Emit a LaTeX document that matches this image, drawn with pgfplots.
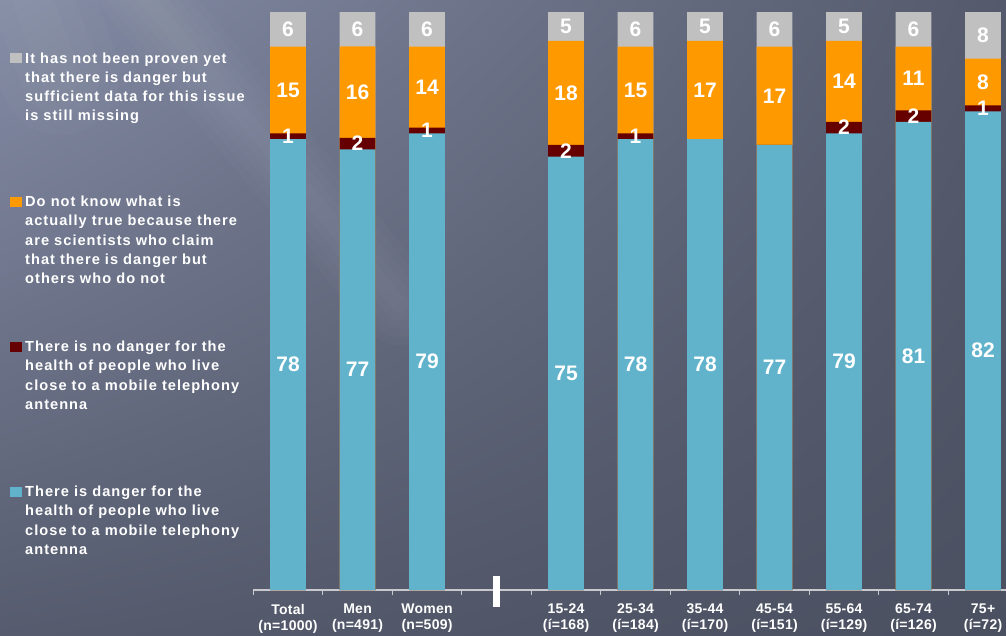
\documentclass[border=0pt]{standalone}
\usepackage{pgfplots}
\pgfplotsset{compat=1.18}
\usepackage{pgfplotstable}
\usetikzlibrary{shadings}
\usepackage{fontspec}
\setmainfont{Liberation Sans}
\newfontfamily\legfont{Liberation Sans}[LetterSpace=7]
\newfontfamily\tickfont{Liberation Sans}[LetterSpace=2]
\definecolor{cdanger}{RGB}{96,179,203}
\definecolor{cnodanger}{RGB}{102,0,0}
\definecolor{cdontknow}{RGB}{255,153,0}
\definecolor{cnotproven}{RGB}{192,192,192}
\definecolor{bgUL}{RGB}{132,140,166}
\definecolor{bgUR}{RGB}{84,90,107}
\definecolor{bgLL}{RGB}{86,92,110}
\definecolor{bgLR}{RGB}{74,80,96}
\definecolor{axisgray}{RGB}{200,200,205}

% percentages per group (each bar is drawn as a 100% stack)
\pgfplotstableread{
x danger nodanger dontknow notproven
0  78 1 15 6
1  77 2 16 6
2  79 1 14 6
4  75 2 18 5
5  78 1 15 6
6  78 0 17 5
7  77 0 17 6
8  79 2 14 5
9  81 2 11 6
10 82 1 8  8
}\datatable

\newcommand{\tot}{(\thisrow{danger}+\thisrow{nodanger}+\thisrow{dontknow}+\thisrow{notproven})}
\newcommand{\vallabel}{\pgfmathfloatparsenumber{\pgfplotspointmeta}\pgfmathfloatifflags{\pgfmathresult}{0}{}{\pgfmathprintnumber{\pgfplotspointmeta}}}

\begin{document}
\begin{tikzpicture}[x=1pt,y=1pt]
\useasboundingbox (0,0) rectangle (1006,635);
\shade[upper left=bgUL, upper right=bgUR, lower left=bgLL, lower right=bgLR] (0,0) rectangle (1006,635);
\begin{scope}
\clip (0,0) rectangle (1006,635);
\foreach \w in {16,32,48,64,80}
  \draw[white, opacity=0.02, line width=\w pt, line cap=round] (110,680) -- (400,330);
\foreach \w in {40,80,120}
  \draw[white, opacity=0.02, line width=\w pt, line cap=round] (20,670) -- (60,560);
\end{scope}

\begin{axis}[
  at={(253.3pt,45pt)}, anchor=south west,
  scale only axis, width=752.7pt, height=590pt,
  xmin=-0.5, xmax=10.33, ymin=0, ymax=102.08,
  axis x line*=bottom, axis y line=none,
  axis line style={draw=axisgray, line width=1.3pt},
  xtick={0,1,2,4,5,6,7,8,9,10},
  xticklabels={{Total\\(n=1000)},{Men\\(n=491)},{Women\\(n=509)},{15-24\\(í=168)},{25-34\\(í=184)},{35-44\\(í=170)},{45-54\\(í=151)},{55-64\\(í=129)},{65-74\\(í=126)},{75+\\(í=72)}},
  xticklabel style={align=center, text=white, inner sep=0pt, anchor=north, yshift=-14pt,
    font=\tickfont\bfseries\fontsize{14}{16}\selectfont},
  major tick length=0pt,
  minor xtick={-0.5,0.5,1.5,2.5,3.5,4.5,5.5,6.5,7.5,8.5,9.5},
  minor tick length=4.5pt,
  tick align=outside,
  minor tick style={draw=axisgray, line width=1pt},
  clip=false,
  /pgf/number format/assume math mode=true,
  every node near coord/.append style={anchor=center, text=white,
    font=\bfseries\fontsize{21}{21}\selectfont},
]
\addplot[ybar, bar width=35.7pt, bar shift=0pt, fill=cnotproven, draw=none]
  table[x=x, y expr=100*\tot/\tot] {\datatable};
\addplot[ybar, bar width=35.7pt, bar shift=0pt, fill=cdontknow, draw=none]
  table[x=x, y expr=100*(\thisrow{danger}+\thisrow{nodanger}+\thisrow{dontknow})/\tot] {\datatable};
\addplot[ybar, bar width=35.7pt, bar shift=0pt, fill=cnodanger, draw=none]
  table[x=x, y expr=100*(\thisrow{danger}+\thisrow{nodanger})/\tot] {\datatable};
\addplot[ybar, bar width=35.7pt, bar shift=0pt, fill=cdanger, draw=none]
  table[x=x, y expr=100*\thisrow{danger}/\tot] {\datatable};

\addplot[draw=none, mark=none, point meta=explicit, nodes near coords={\vallabel}]
  table[x=x, y expr=100*(\thisrow{danger}/2)/\tot, meta=danger] {\datatable};
\addplot[draw=none, mark=none, point meta=explicit, nodes near coords={\vallabel}]
  table[x=x, y expr=100*(\thisrow{danger}+\thisrow{nodanger}/2)/\tot, meta=nodanger] {\datatable};
\addplot[draw=none, mark=none, point meta=explicit, nodes near coords={\vallabel}]
  table[x=x, y expr=100*(\thisrow{danger}+\thisrow{nodanger}+\thisrow{dontknow}/2)/\tot, meta=dontknow] {\datatable};
\addplot[draw=none, mark=none, point meta=explicit, nodes near coords={\vallabel}]
  table[x=x, y expr=100*(\thisrow{danger}+\thisrow{nodanger}+\thisrow{dontknow}+\thisrow{notproven}/2)/\tot, meta=notproven] {\datatable};

\fill[white] (axis cs:3,0) ++(-3.4pt,-16.7pt) rectangle ++(6.8pt,31pt);
\end{axis}

% legend
\begin{scope}[every node/.style={anchor=base west, inner sep=0pt, text=white,
    font=\legfont\bfseries\fontsize{14.6}{19}\selectfont}]
\fill[cnotproven] (10,572) rectangle (21.5,582);
\foreach \t [count=\i from 0] in {{It has not been proven yet},{that there is danger but},{sufficient data for this issue},{is still missing}}
  \node at (25,{571.7-\i*19.2}) {\t};
\fill[cdontknow] (10,428.3) rectangle (21.5,438.3);
\foreach \t [count=\i from 0] in {{Do not know what is},{actually true because there},{are scientists who claim},{that there is danger but},{others who do not}}
  \node at (25,{428.3-\i*19.2}) {\t};
\fill[cnodanger] (10,283.3) rectangle (21.5,293.3);
\foreach \t [count=\i from 0] in {{There is no danger for the},{health of people who live},{close to a mobile telephony},{antenna}}
  \node at (25,{283.3-\i*19.2}) {\t};
\fill[cdanger] (10,138.3) rectangle (21.5,148.3);
\foreach \t [count=\i from 0] in {{There is danger for the},{health of people who live},{close to a mobile telephony},{antenna}}
  \node at (25,{138.3-\i*19.2}) {\t};
\end{scope}
\end{tikzpicture}
\end{document}
